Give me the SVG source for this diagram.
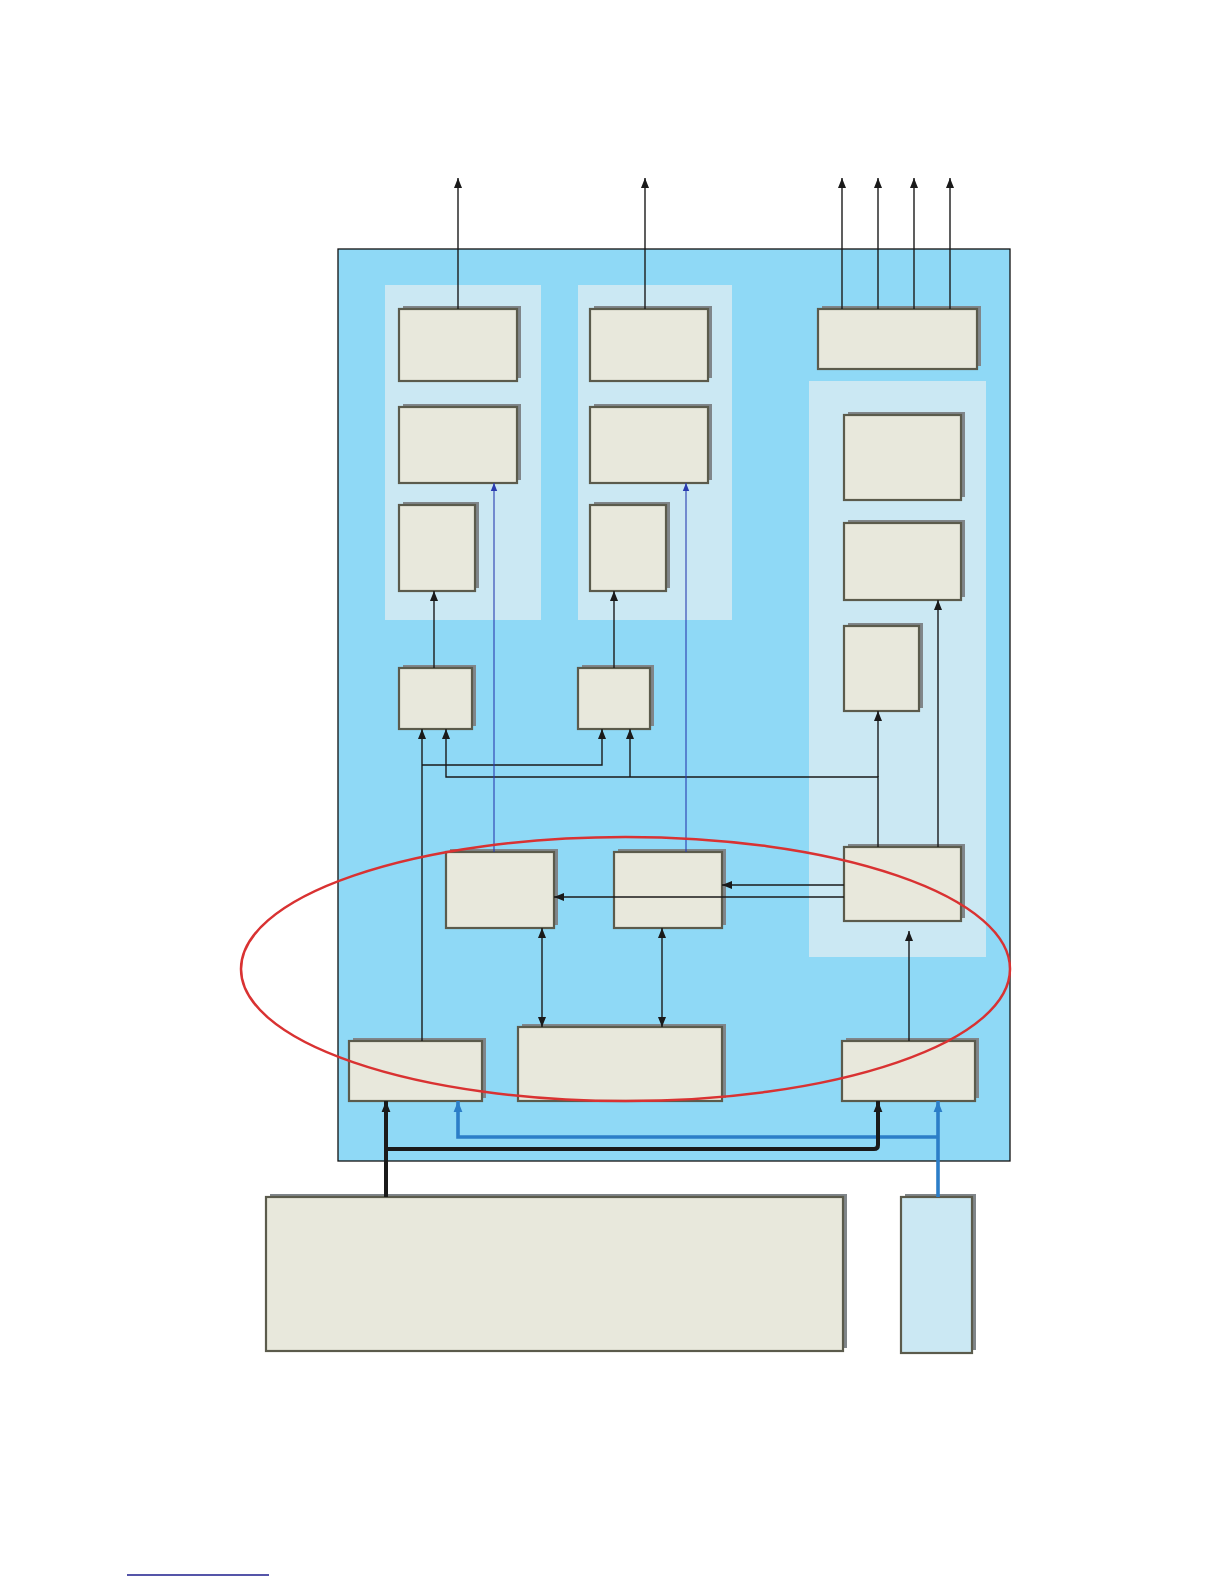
<svg xmlns="http://www.w3.org/2000/svg" width="1224" height="1584" viewBox="0 0 1224 1584">
<style>
.bg{fill:#8fd9f6;stroke:#111111;stroke-width:1.3}
.panel{fill:#cbe8f3}
.sh{fill:#80868a}
.box{fill:#e8e8dc;stroke:#5b5b4c;stroke-width:2.2}
.lbox{fill:#cbe8f3;stroke:#5b5b4c;stroke-width:2.2}
.k{fill:none;stroke:#1a1a1a;stroke-width:1.4}
.kb{fill:none;stroke:#1a1a1a;stroke-width:4}
.b{fill:none;stroke:#2a3cb0;stroke-width:1.1}
.bb{fill:none;stroke:#2c7ec8;stroke-width:3.6}
</style>
<defs>
<marker id="ak" markerUnits="userSpaceOnUse" markerWidth="10" markerHeight="10" viewBox="0 0 10 8" refX="10" refY="4" orient="auto-start-reverse"><path d="M0,0 L10,4 L0,8 z" fill="#1a1a1a"/></marker>
<marker id="ab" markerUnits="userSpaceOnUse" markerWidth="8" markerHeight="8" viewBox="0 0 10 8" refX="10" refY="4" orient="auto"><path d="M0,0 L10,4 L0,8 z" fill="#2a3cb0"/></marker>
<marker id="akb" markerUnits="userSpaceOnUse" markerWidth="11" markerHeight="11" viewBox="0 0 10 8" refX="10" refY="4" orient="auto"><path d="M0,0 L10,4 L0,8 z" fill="#1a1a1a"/></marker>
<marker id="abb" markerUnits="userSpaceOnUse" markerWidth="11" markerHeight="11" viewBox="0 0 10 8" refX="10" refY="4" orient="auto"><path d="M0,0 L10,4 L0,8 z" fill="#2c7ec8"/></marker>
</defs>
<rect id="system" class="bg" x="338" y="249" width="672" height="912"/>
<rect id="panel1" class="panel" x="385" y="285" width="156" height="335"/>
<rect id="panel2" class="panel" x="578" y="285" width="154" height="335"/>
<rect id="panel3" class="panel" x="809" y="381" width="177" height="576"/>

<g id="c1b1"><rect class="sh" x="403" y="306" width="118" height="72"/><rect class="box" x="399" y="309" width="118" height="72"/></g>
<g id="c1b2"><rect class="sh" x="403" y="404" width="118" height="76"/><rect class="box" x="399" y="407" width="118" height="76"/></g>
<g id="c1b3"><rect class="sh" x="403" y="502" width="76" height="86"/><rect class="box" x="399" y="505" width="76" height="86"/></g>
<g id="c2b1"><rect class="sh" x="594" y="306" width="118" height="72"/><rect class="box" x="590" y="309" width="118" height="72"/></g>
<g id="c2b2"><rect class="sh" x="594" y="404" width="118" height="76"/><rect class="box" x="590" y="407" width="118" height="76"/></g>
<g id="c2b3"><rect class="sh" x="594" y="502" width="76" height="86"/><rect class="box" x="590" y="505" width="76" height="86"/></g>
<g id="topright"><rect class="sh" x="822" y="306" width="159" height="60"/><rect class="box" x="818" y="309" width="159" height="60"/></g>
<g id="r1"><rect class="sh" x="848" y="412" width="117" height="85"/><rect class="box" x="844" y="415" width="117" height="85"/></g>
<g id="r2"><rect class="sh" x="848" y="520" width="117" height="77"/><rect class="box" x="844" y="523" width="117" height="77"/></g>
<g id="r3"><rect class="sh" x="848" y="623" width="75" height="85"/><rect class="box" x="844" y="626" width="75" height="85"/></g>
<g id="A"><rect class="sh" x="403" y="665" width="73" height="61"/><rect class="box" x="399" y="668" width="73" height="61"/></g>
<g id="B"><rect class="sh" x="582" y="665" width="72" height="61"/><rect class="box" x="578" y="668" width="72" height="61"/></g>
<g id="C"><rect class="sh" x="450" y="849" width="108" height="76"/><rect class="box" x="446" y="852" width="108" height="76"/></g>
<g id="D"><rect class="sh" x="618" y="849" width="108" height="76"/><rect class="box" x="614" y="852" width="108" height="76"/></g>
<g id="E"><rect class="sh" x="848" y="844" width="117" height="74"/><rect class="box" x="844" y="847" width="117" height="74"/></g>
<g id="F"><rect class="sh" x="353" y="1038" width="133" height="60"/><rect class="box" x="349" y="1041" width="133" height="60"/></g>
<g id="G"><rect class="sh" x="522" y="1024" width="204" height="74"/><rect class="box" x="518" y="1027" width="204" height="74"/></g>
<g id="H"><rect class="sh" x="846" y="1038" width="133" height="60"/><rect class="box" x="842" y="1041" width="133" height="60"/></g>
<g id="bigbox"><rect class="sh" x="270" y="1194" width="577" height="154"/><rect class="box" x="266" y="1197" width="577" height="154"/></g>
<g id="smallbox"><rect class="sh" x="905" y="1194" width="71" height="156"/><rect class="lbox" x="901" y="1197" width="71" height="156"/></g>

<g id="connectors">
<path class="k" d="M458,309 V178" marker-end="url(#ak)"/>
<path class="k" d="M645,309 V178" marker-end="url(#ak)"/>
<path class="k" d="M842,309 V178" marker-end="url(#ak)"/>
<path class="k" d="M878,309 V178" marker-end="url(#ak)"/>
<path class="k" d="M914,309 V178" marker-end="url(#ak)"/>
<path class="k" d="M950,309 V178" marker-end="url(#ak)"/>
<path class="k" d="M434,668 V591" marker-end="url(#ak)"/>
<path class="k" d="M614,668 V591" marker-end="url(#ak)"/>
<path class="k" d="M422,1041 V729" marker-end="url(#ak)"/>
<path class="k" d="M422,765 H602 V729" marker-end="url(#ak)"/>
<path class="k" d="M878,847 V777 H446 V729" marker-end="url(#ak)"/>
<path class="k" d="M630,777 V729" marker-end="url(#ak)"/>
<path class="k" d="M878,777 V711" marker-end="url(#ak)"/>
<path class="k" d="M938,847 V600" marker-end="url(#ak)"/>
<path class="k" d="M844,885 H722" marker-end="url(#ak)"/>
<path class="k" d="M844,897 H554" marker-end="url(#ak)"/>
<path class="k" d="M542,928 V1027" marker-start="url(#ak)" marker-end="url(#ak)"/>
<path class="k" d="M662,928 V1027" marker-start="url(#ak)" marker-end="url(#ak)"/>
<path class="k" d="M909,1041 V931" marker-end="url(#ak)"/>
<path class="b" d="M494,852 V483" marker-end="url(#ab)"/>
<path class="b" d="M686,852 V483" marker-end="url(#ab)"/>
<path class="bb" d="M938,1197 V1101" marker-end="url(#abb)"/>
<path class="bb" d="M938,1137 H458 V1101" marker-end="url(#abb)"/>
<path class="kb" d="M386,1197 V1101" marker-end="url(#akb)"/>
<path class="kb" d="M386,1149 H874 Q878,1149 878,1145 V1101" marker-end="url(#akb)"/>
</g>
<ellipse id="highlight" cx="625.5" cy="969" rx="384.5" ry="132" fill="none" stroke="#d93232" stroke-width="2.5"/>
<line x1="127" y1="1575" x2="269" y2="1575" stroke="#1c1c8c" stroke-width="1.3"/>
</svg>
